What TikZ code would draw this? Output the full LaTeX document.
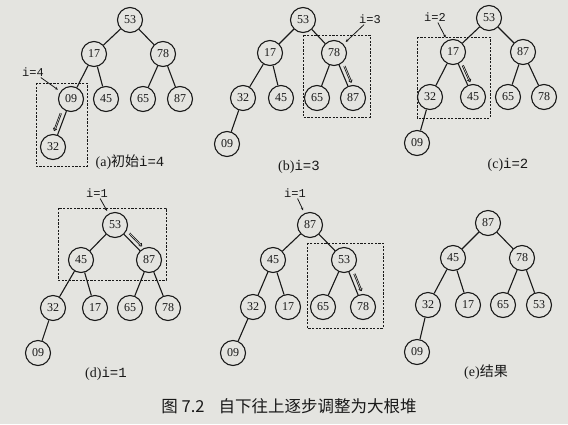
\documentclass[tikz,border=0pt]{standalone}
\usepackage{fontspec}
\setmainfont{Liberation Serif}
\setmonofont{Liberation Mono}
\newfontfamily\cjk{Noto Sans CJK SC}
\usepackage{tikz}
\usetikzlibrary{arrows.meta,calc}
\definecolor{paper}{RGB}{228,228,224}
\definecolor{ink}{RGB}{25,25,25}
\newcommand{\ival}[1]{\texttt{i=#1}}

\begin{document}
\begin{tikzpicture}[x=1pt,y=-1pt,
  key/.style={circle,draw=ink,line width=1.1pt,minimum size=25pt,inner sep=0pt,
              text=ink,font=\fontsize{12}{14}\selectfont},
  edge/.style={draw=ink,line width=1.1pt},
  swap/.style={draw=ink,double=paper,double distance=0.5pt,line width=0.8pt,
               -{Implies}},
  frame/.style={draw=ink,line width=0.9pt,dash pattern=on 2.2pt off 1.4pt},
  lbl/.style={text=ink,inner sep=1pt,font=\fontsize{12}{14}\selectfont},
  ptr/.style={draw=ink,line width=0.8pt,-{Stealth[length=3pt,width=2.6pt]},
              shorten >=3pt},
  subcap/.style={text=ink,inner sep=0pt,font=\fontsize{14}{16}\selectfont}]
\fill[paper] (0,0) rectangle (568,424);
\useasboundingbox (0,0) rectangle (568,424);

% (a) initial, i=4
\node[key] (a1) at (130,20) {53};
\node[key] (a2) at (94,54) {17};
\node[key] (a3) at (163,54) {78};
\node[key] (a4) at (71,99) {09};
\node[key] (a5) at (106,99) {45};
\node[key] (a6) at (143,99) {65};
\node[key] (a7) at (180,99) {87};
\node[key] (a8) at (53,147) {32};
\foreach \p/\c in {a1/a2,a1/a3,a2/a4,a2/a5,a3/a6,a3/a7,a4/a8}
  \draw[edge] (\p) -- (\c);
\draw[frame] (36,83) rectangle (87,166);
\node[lbl] (ai) at (33,72) {\ival{4}};
\draw[ptr] (ai) -- (a4);
\draw[swap] ($(a4)!0.33!(a8)!4.5pt!-90:(a8)$) -- ($(a4)!0.7!(a8)!4.5pt!-90:(a8)$);
\node[subcap] (acap) at (130,162) {(a){\cjk 初始}\ival{4}};

% (b) i=3
\node[key] (b1) at (303,20) {53};
\node[key] (b2) at (270,53) {17};
\node[key] (b3) at (334,53) {78};
\node[key] (b4) at (243,98) {32};
\node[key] (b5) at (281,98) {45};
\node[key] (b6) at (317,98) {65};
\node[key] (b7) at (353,98) {87};
\node[key] (b8) at (227,144) {09};
\foreach \p/\c in {b1/b2,b1/b3,b2/b4,b2/b5,b3/b6,b3/b7,b4/b8}
  \draw[edge] (\p) -- (\c);
\draw[frame] (303,35) rectangle (370,117);
\node[lbl] (bi) at (370,19) {\ival{3}};
\draw[ptr] (bi) -- (b3);
\draw[swap] ($(b3)!0.33!(b7)!4.5pt!90:(b7)$) -- ($(b3)!0.7!(b7)!4.5pt!90:(b7)$);
\node[subcap] (bcap) at (299,167) {(b)\ival{3}};

% (c) i=2
\node[key] (c1) at (489,18) {53};
\node[key] (c2) at (453,52) {17};
\node[key] (c3) at (523,52) {87};
\node[key] (c4) at (430,97) {32};
\node[key] (c5) at (473,97) {45};
\node[key] (c6) at (508,97) {65};
\node[key] (c7) at (544,97) {78};
\node[key] (c8) at (417,143) {09};
\foreach \p/\c in {c1/c2,c1/c3,c2/c4,c2/c5,c3/c6,c3/c7,c4/c8}
  \draw[edge] (\p) -- (\c);
\draw[frame] (417,37) rectangle (490,118);
\node[lbl] (ci) at (435,17) {\ival{2}};
\draw[ptr] (ci) -- (c2);
\draw[swap] ($(c2)!0.33!(c5)!3.5pt!90:(c5)$) -- ($(c2)!0.7!(c5)!3.5pt!90:(c5)$);
\node[subcap] (ccap) at (508,165) {(c)\ival{2}};

% (d) i=1
\node[key] (d1) at (115,225) {53};
\node[key] (d2) at (81,260) {45};
\node[key] (d3) at (149,260) {87};
\node[key] (d4) at (53,308) {32};
\node[key] (d5) at (95,308) {17};
\node[key] (d6) at (130,308) {65};
\node[key] (d7) at (168,308) {78};
\node[key] (d8) at (38,353) {09};
\foreach \p/\c in {d1/d2,d1/d3,d2/d4,d2/d5,d3/d6,d3/d7,d4/d8}
  \draw[edge] (\p) -- (\c);
\draw[frame] (58,208) rectangle (166,280);
\node[lbl] (di) at (97,193) {\ival{1}};
\draw[ptr] (di) -- (d1);
\draw[swap] ($(d1)!0.33!(d3)!4.5pt!90:(d3)$) -- ($(d1)!0.7!(d3)!4.5pt!90:(d3)$);
\node[subcap] (dcap) at (106,374) {(d)\ival{1}};

% i=1, second step
\node[key] (m1) at (310,225) {87};
\node[key] (m2) at (273,260) {45};
\node[key] (m3) at (344,260) {53};
\node[key] (m4) at (253,307) {32};
\node[key] (m5) at (288,307) {17};
\node[key] (m6) at (323,307) {65};
\node[key] (m7) at (363,307) {78};
\node[key] (m8) at (233,353) {09};
\foreach \p/\c in {m1/m2,m1/m3,m2/m4,m2/m5,m3/m6,m3/m7,m4/m8}
  \draw[edge] (\p) -- (\c);
\draw[frame] (307,243) rectangle (383,328);
\node[lbl] (mi) at (295,193) {\ival{1}};
\draw[ptr] (mi) -- (m1);
\draw[swap] ($(m3)!0.33!(m7)!4.5pt!90:(m7)$) -- ($(m3)!0.7!(m7)!4.5pt!90:(m7)$);

% (e) result
\node[key] (e1) at (488,223) {87};
\node[key] (e2) at (453,258) {45};
\node[key] (e3) at (522,258) {78};
\node[key] (e4) at (428,305) {32};
\node[key] (e5) at (468,305) {17};
\node[key] (e6) at (503,305) {65};
\node[key] (e7) at (539,305) {53};
\node[key] (e8) at (417,352) {09};
\foreach \p/\c in {e1/e2,e1/e3,e2/e4,e2/e5,e3/e6,e3/e7,e4/e8}
  \draw[edge] (\p) -- (\c);
\node[subcap] (ecap) at (486,372) {(e){\cjk 结果}};

\node[text=ink,font=\cjk\fontsize{16.5}{19}\selectfont] (fig) at (289,406)
  {图 7.2\hspace{14pt}自下往上逐步调整为大根堆};
\end{tikzpicture}
\end{document}
